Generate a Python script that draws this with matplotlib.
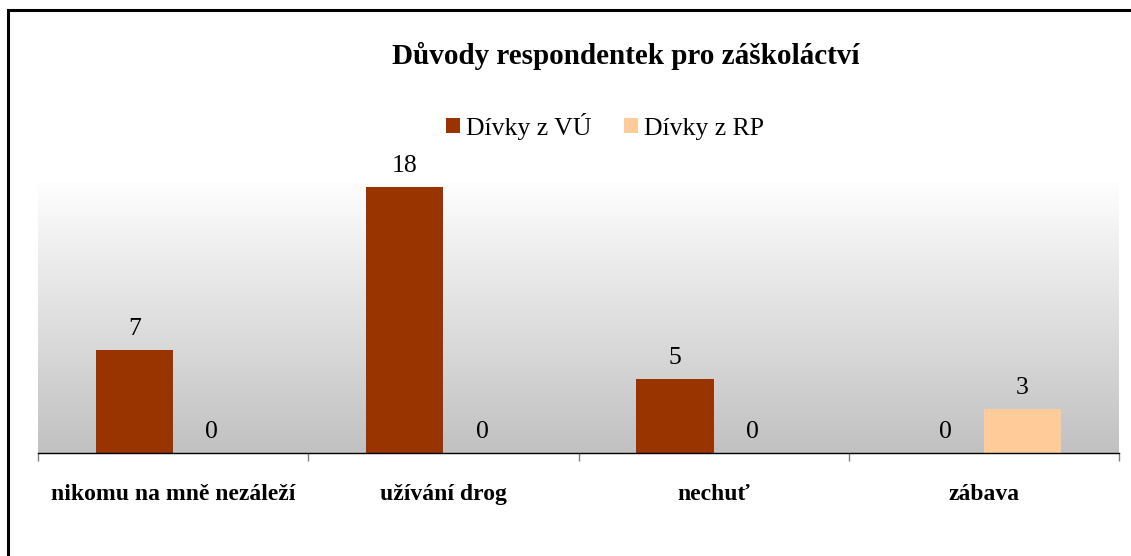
import matplotlib
matplotlib.use("Agg")
import matplotlib.pyplot as plt
import numpy as np
from matplotlib.patches import Rectangle

categories = ["nikomu na mně nezáleží", "užívání drog", "nechuť", "zábava"]
series_names = ["Dívky z VÚ", "Dívky z RP"]
vu_values = [7, 18, 5, 0]
rp_values = [0, 0, 0, 3]
colors = ["#993300", "#FFCC99"]
title = "Důvody respondentek pro záškoláctví"

W, H = 1131, 556
fig = plt.figure(figsize=(W / 100, H / 100), dpi=100)
fig.patch.set_facecolor("white")

# outer chart border (left and top visible, right/bottom cut off)
fig.add_artist(Rectangle((8 / W, -0.1), 1.2, 1.1 - 10 / H, transform=fig.transFigure,
                         fill=False, edgecolor="black", linewidth=2.2))

left, right, top, bottom = 38, 1119, 182, 453
ax = fig.add_axes([left / W, 1 - bottom / H, (right - left) / W, (bottom - top) / H])

ymax = 18.34
ax.set_xlim(-0.5, 3.5)
ax.set_ylim(0, ymax)

# gradient background
grad = np.linspace(0, 1, 256).reshape(-1, 1)
top_c = np.array([0.995, 0.995, 0.995])
bot_c = np.array([0.757, 0.757, 0.757])
img = top_c[None, None, :] * (1 - grad[:, :, None]) + bot_c[None, None, :] * grad[:, :, None]
ax.imshow(img, extent=[-0.5, 3.5, 0, ymax], aspect="auto", zorder=0, origin="upper")

x = np.arange(len(categories))
bw = 0.2857
bars1 = ax.bar(x - bw / 2, vu_values, bw, color=colors[0], label=series_names[0], zorder=2)
bars2 = ax.bar(x + bw / 2, rp_values, bw, color=colors[1], label=series_names[1], zorder=2)

font = "Liberation Serif"
for bars, vals in ((bars1, vu_values), (bars2, rp_values)):
    for b, v in zip(bars, vals):
        ax.annotate(str(v), (b.get_x() + b.get_width() / 2, v), xytext=(0, 10.8),
                    textcoords="offset points", ha="center", va="baseline",
                    fontsize=18.5, family=font, color="black", zorder=3)

for s in ["top", "right", "left"]:
    ax.spines[s].set_visible(False)
ax.spines["bottom"].set_color("black")
ax.spines["bottom"].set_linewidth(1.0)
ax.spines["bottom"].set_zorder(4)
ax.set_yticks([])
ax.set_xticks(x)
ax.set_xticklabels(categories, fontsize=17, family=font, fontweight="bold")
ax.tick_params(axis="x", which="major", length=0, pad=22.5)
ax.set_xticks(np.arange(-0.5, 3.6, 1.0), minor=True)
ax.tick_params(axis="x", which="minor", length=5.5, width=1, color="#808080", direction="out")

fig.text(626 / W, 1 - 56 / H, title, ha="center", va="center", fontsize=21,
         family=font, fontweight="bold")

leg = fig.legend(handles=[bars1, bars2], labels=series_names, loc="center",
                 bbox_to_anchor=(605 / W, 1 - 126 / H), ncol=2, frameon=False,
                 prop={"family": font, "size": 18.5}, handlelength=0.55, handleheight=0.55,
                 handletextpad=0.25, columnspacing=1.25, borderpad=0, borderaxespad=0)

fig.savefig("out.png", dpi=100, facecolor="white")
